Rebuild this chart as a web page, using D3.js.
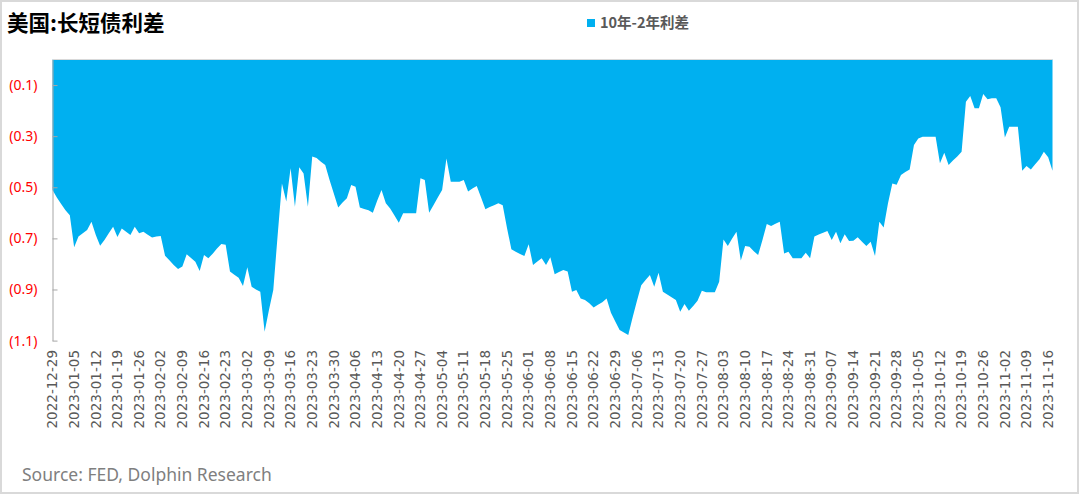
<!DOCTYPE html>
<html><head><meta charset="utf-8">
<script src="https://cdn.jsdelivr.net/npm/d3@7"></script>
<style>html,body{margin:0;padding:0;background:#fff;}svg{display:block}</style>
</head><body><svg id="c" width="1080" height="495"></svg>
<script>
const title = "美国:长短债利差";
const seriesName = "10年-2年利差";
const sourceText = "Source: FED, Dolphin Research";
const startDate = "2022-12-29";
const endDate = "2023-11-17";
const spread = [
-0.511,-0.54,-0.565,-0.59,-0.609,-0.735,-0.693,-0.68,-0.667,-0.635,
-0.687,-0.729,-0.706,-0.68,-0.654,-0.695,-0.661,-0.674,-0.687,-0.654,
-0.68,-0.674,-0.686,-0.697,-0.693,-0.691,-0.768,-0.786,-0.804,-0.82,
-0.81,-0.762,-0.777,-0.791,-0.828,-0.765,-0.778,-0.76,-0.74,-0.722,
-0.725,-0.83,-0.842,-0.854,-0.886,-0.813,-0.889,-0.90,-0.909,-1.065,
-0.98,-0.902,-0.69,-0.485,-0.556,-0.426,-0.576,-0.422,-0.446,-0.576,
-0.38,-0.385,-0.40,-0.413,-0.472,-0.525,-0.579,-0.56,-0.543,-0.491,
-0.498,-0.579,-0.585,-0.59,-0.60,-0.553,-0.511,-0.563,-0.583,-0.61,
-0.639,-0.602,-0.602,-0.602,-0.602,-0.465,-0.472,-0.60,-0.57,-0.54,
-0.511,-0.387,-0.478,-0.478,-0.478,-0.472,-0.517,-0.505,-0.495,-0.54,
-0.586,-0.577,-0.57,-0.563,-0.57,-0.66,-0.743,-0.752,-0.761,-0.769,
-0.723,-0.804,-0.79,-0.778,-0.804,-0.774,-0.84,-0.832,-0.824,-0.83,
-0.909,-0.902,-0.935,-0.941,-0.954,-0.97,-0.96,-0.95,-0.935,-0.991,
-1.025,-1.059,-1.068,-1.078,-1.01,-0.945,-0.883,-0.863,-0.843,-0.889,
-0.834,-0.909,-0.92,-0.93,-0.941,-0.987,-0.957,-0.983,-0.965,-0.944,
-0.905,-0.911,-0.911,-0.911,-0.87,-0.704,-0.73,-0.70,-0.674,-0.787,
-0.73,-0.733,-0.75,-0.765,-0.706,-0.644,-0.652,-0.643,-0.635,-0.759,
-0.752,-0.778,-0.778,-0.778,-0.756,-0.778,-0.693,-0.685,-0.678,-0.671,
-0.706,-0.674,-0.719,-0.684,-0.71,-0.709,-0.696,-0.713,-0.73,-0.713,
-0.769,-0.635,-0.657,-0.563,-0.485,-0.49,-0.452,-0.44,-0.43,-0.335,
-0.309,-0.302,-0.302,-0.302,-0.302,-0.406,-0.365,-0.413,-0.395,-0.38,
-0.361,-0.165,-0.143,-0.191,-0.191,-0.135,-0.156,-0.152,-0.152,-0.187,
-0.305,-0.263,-0.263,-0.263,-0.435,-0.417,-0.43,-0.41,-0.39,-0.361,
-0.383,-0.435
];
const yTicks = [-0.1, -0.3, -0.5, -0.7, -0.9, -1.1];
const tickLabels = ["2022-12-29","2023-01-05","2023-01-12","2023-01-19","2023-01-26","2023-02-02","2023-02-09","2023-02-16","2023-02-23","2023-03-02","2023-03-09","2023-03-16","2023-03-23","2023-03-30","2023-04-06","2023-04-13","2023-04-20","2023-04-27","2023-05-04","2023-05-11","2023-05-18","2023-05-25","2023-06-01","2023-06-08","2023-06-15","2023-06-22","2023-06-29","2023-07-06","2023-07-13","2023-07-20","2023-07-27","2023-08-03","2023-08-10","2023-08-17","2023-08-24","2023-08-31","2023-09-07","2023-09-14","2023-09-21","2023-09-28","2023-10-05","2023-10-12","2023-10-19","2023-10-26","2023-11-02","2023-11-09","2023-11-16"];

const parse = d3.utcParse("%Y-%m-%d"), fmt = d3.utcFormat("%Y-%m-%d");
const dates = d3.utcDays(parse(startDate), d3.utcDay.offset(parse(endDate), 1))
  .filter(d => d.getUTCDay() !== 0 && d.getUTCDay() !== 6).map(fmt);
const data = dates.map((d, i) => ({date: d, v: spread[i]})).filter(d => d.v !== undefined);

const svg = d3.select("#c");
svg.append("rect").attr("x",1).attr("y",1).attr("width",1077).attr("height",492)
  .attr("fill","#fff").attr("stroke","#d9d9d9").attr("stroke-width",2);

const x = d3.scalePoint().domain(dates).range([52.5, 1052.5]);
const y = d3.scaleLinear().domain([-1.1, 0]).range([340.6, 59.5]);

const area = d3.area().x(d => x(d.date)).y0(y(0)).y1(d => y(d.v));
svg.append("path").datum(data).attr("d", area).attr("fill", "#00b0f0");

// x axis line at zero (top)
svg.append("line").attr("x1", x.range()[0]).attr("x2", x.range()[1])
  .attr("y1", y(0)).attr("y2", y(0)).attr("stroke", "#d9d9d9").attr("stroke-width", 1.2);

// y axis
const yAxis = d3.axisLeft(y).tickValues(yTicks).tickSizeInner(-5).tickSizeOuter(0).tickPadding(15)
  .tickFormat(v => "(" + d3.format(".1f")(Math.abs(v)) + ")");
const gy = svg.append("g").attr("transform", `translate(${x.range()[0]},0)`).call(yAxis);
gy.select(".domain").attr("stroke", "#a6a6a6");
gy.selectAll(".tick line").attr("stroke", "#a6a6a6");
gy.selectAll(".tick text").attr("fill", "#ff0000").style("font-family", "'Noto Sans', sans-serif").style("font-size", "14px");

// x labels
const gx = svg.append("g");
gx.selectAll("text").data(tickLabels).join("text")
  .attr("transform", d => `translate(${x(d)},350) rotate(-90)`)
  .attr("text-anchor", "end").attr("dy", "0.35em")
  .attr("fill", "#595959").style("font-family", "'DejaVu Sans', sans-serif").style("font-size", "13.5px")
  .text(d => d);

// title
svg.append("text").attr("x", 7).attr("y", 31).text(title)
  .attr("fill", "#000").style("font-family", "'Noto Sans CJK SC', sans-serif")
  .style("font-weight", "700").style("font-size", "21.5px");

// legend
svg.append("rect").attr("x", 587).attr("y", 19).attr("width", 8).attr("height", 8).attr("fill", "#00b0f0");
svg.append("text").attr("x", 600).attr("y", 23).attr("dy", "0.35em").text(seriesName)
  .attr("fill", "#595959").style("font-family", "'Noto Sans CJK SC', sans-serif")
  .style("font-weight", "700").style("font-size", "14.5px");

// source
svg.append("text").attr("x", 22).attr("y", 481).text(sourceText)
  .attr("fill", "#7f7f7f").style("font-family", "'Noto Sans', sans-serif").style("font-size", "17.5px");
</script></body></html>
